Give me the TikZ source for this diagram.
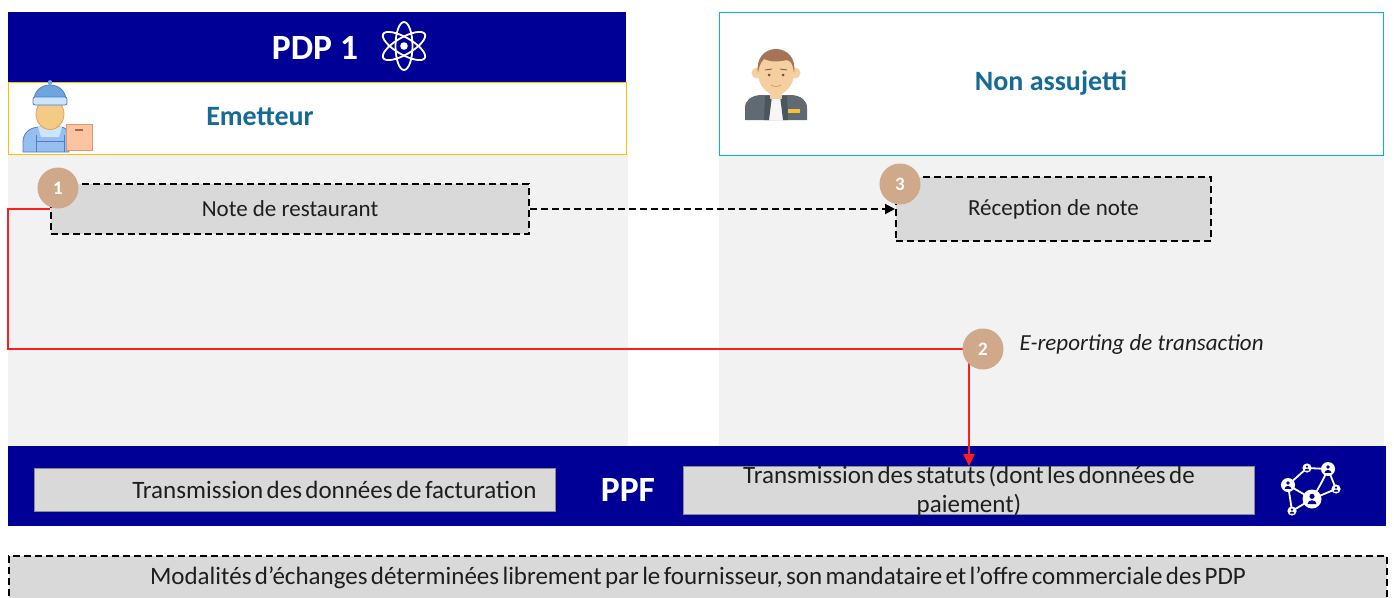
\documentclass[tikz,border=0pt]{standalone}
\usepackage{fontspec}
\setmainfont{Carlito}
\newfontfamily\tightfont{Carlito}[WordSpace=0.6]
\usetikzlibrary{arrows.meta,calc}

\definecolor{navy}{RGB}{0,0,150}
\definecolor{lane}{RGB}{242,242,242}
\definecolor{boxgrey}{RGB}{217,217,217}
\definecolor{rimgrey}{RGB}{140,140,140}
\definecolor{badge}{RGB}{207,169,138}
\definecolor{titleblue}{RGB}{22,106,150}
\definecolor{gold}{RGB}{255,192,0}
\definecolor{sky}{RGB}{0,176,240}
\definecolor{txt}{RGB}{30,30,30}
\definecolor{flowred}{RGB}{255,30,30}
% icon colours
\definecolor{capblue}{RGB}{110,165,225}
\definecolor{capedge}{RGB}{75,125,200}
\definecolor{brim}{RGB}{205,228,250}
\definecolor{overall}{RGB}{150,190,238}
\definecolor{skin}{RGB}{243,203,135}
\definecolor{skinedge}{RGB}{215,165,95}
\definecolor{parcel}{RGB}{252,196,160}
\definecolor{parceledge}{RGB}{225,150,110}
\definecolor{skintwo}{RGB}{245,207,160}
\definecolor{hair}{RGB}{165,115,85}
\definecolor{jacket}{RGB}{95,106,115}
\definecolor{jacketdark}{RGB}{75,85,94}
\definecolor{tag}{RGB}{250,190,60}

\begin{document}
\begin{tikzpicture}[x=1pt,y=-1pt,
  bar/.style={fill=navy, draw=none, inner sep=0pt, anchor=north west},
  stepbox/.style={draw=black, fill=boxgrey, line width=2pt, dash pattern=on 7pt off 4pt,
    inner sep=0pt, anchor=north west, text=txt, font=\fontsize{23}{27}\selectfont},
  ppfbox/.style={draw=rimgrey, fill=boxgrey, line width=1pt, inner sep=0pt,
    anchor=north west, text=txt, font=\tightfont\fontsize{25}{29}\selectfont},
  badgenode/.style={circle, fill=badge, minimum size=41pt, inner sep=0pt, text=white,
    font=\bfseries\fontsize{19}{19}\selectfont},
  heading/.style={text=titleblue, font=\bfseries\fontsize{28}{30}\selectfont},
  bigwhite/.style={text=white, font=\bfseries\fontsize{35.5}{38}\selectfont},
  dashline/.style={black, line width=2pt, dash pattern=on 7pt off 4pt},
  redline/.style={flowred, line width=2pt}
]
\useasboundingbox (0,0) rectangle (1394,597);
\clip (0,0) rectangle (1394,597);

% swim lanes
\fill[lane] (8,154) rectangle (628,446);
\fill[lane] (719,155) rectangle (1384,446);

% PDP 1 header and issuer box
\node[bar, minimum width=618pt, minimum height=70pt] (pdp) at (8,12) {};
\node[bigwhite] (pdptitle) at (315,48) {PDP 1};
\node[draw=gold, fill=white, line width=1pt, inner sep=0pt, anchor=north west,
  minimum width=618pt, minimum height=72pt] (emit) at (8,82) {};
\node[heading] (emittitle) at (260,117) {Emetteur};

% atom symbol
\begin{scope}[white, line width=1.8pt]
  \draw[rotate around={90:(404,46)}] (404,46) ellipse (24 and 8.5);
  \draw[rotate around={30:(404,46)}] (404,46) ellipse (24 and 8.5);
  \draw[rotate around={150:(404,46)}] (404,46) ellipse (24 and 8.5);
  \fill (404,46) circle (3.8);
\end{scope}

% delivery person
\filldraw[fill=overall, draw=capedge, line width=0.8pt]
  (23,152) -- (23,142) .. controls (23,132) and (31,127) .. (40,127)
  -- (60,127) .. controls (66,127) and (69,131) .. (69,138) -- (69,152) -- cycle;
\fill[brim] (38,127) -- (62,127) -- (59,137) -- (41,137) -- cycle;
\draw[capedge, line width=1pt] (36,152) -- (36,135) (64,152) -- (64,135);
\draw[capedge, line width=1pt] (36,141) -- (64,141);
\filldraw[fill=skin, draw=skinedge, line width=0.8pt] (50,114) ellipse (14 and 15.5);
\filldraw[fill=capblue, draw=capedge, line width=0.8pt]
  (34,103) .. controls (32,79) and (68,79) .. (66,103) -- cycle;
\filldraw[fill=brim, draw=capedge, line width=0.8pt, rounded corners=2pt] (33,97) rectangle (67,105);
\fill[capblue] (50,82.5) circle (2.4);
\filldraw[fill=parcel, draw=parceledge, line width=0.8pt] (66,124) rectangle (92,150);
\draw[parceledge!70!black, line width=1.4pt] (75,130) -- (83,130);

% receiver box
\node[draw=sky, fill=white, line width=1.3pt, inner sep=0pt, anchor=north west,
  minimum width=664pt, minimum height=143pt] (recvhead) at (719,12) {};
\node[heading] (recvtitle) at (1051,83) {Non assujetti};

% person in jacket
\fill[jacket] (745,120) -- (745,108) .. controls (745,100) and (751,96) .. (760,95)
  -- (792,95) .. controls (801,96) and (807,100) .. (807,108) -- (807,120) -- cycle;
\fill[white!93!gray] (767,96) -- (785,96) -- (784,120) -- (768,120) -- cycle;
\fill[jacketdark] (765,96) -- (772,96) -- (769,120) -- (764,120) -- cycle;
\fill[jacketdark] (780,96) -- (787,96) -- (788,120) -- (783,120) -- cycle;
\fill[tag] (788,109) rectangle (800,113);
\fill[skintwo] (770,86) rectangle (782,99);
\fill[skintwo] (757,73) circle (5.5);
\fill[skintwo] (795,73) circle (5.5);
\fill[skintwo] (776,73) ellipse (18 and 21.5);
\fill[hair] (758,73) .. controls (753,41) and (799,41) .. (794,73)
  .. controls (793,64) and (791,61) .. (787,60)
  .. controls (778,62) and (770,62) .. (764,59)
  .. controls (761,62) and (759,66) .. (758,73) -- cycle;
\fill[hair!70!black] (769,75) circle (1.5) (783,75) circle (1.5);
\draw[hair!80!black, line width=0.9pt] (765,70) -- (772,69) (780,69) -- (787,70);
\draw[skinedge, line width=0.9pt] (771,85) .. controls (774,87) and (778,87) .. (781,85);

% step boxes
\node[stepbox, minimum width=478pt, minimum height=50pt] (note) at (50,183) {Note de restaurant};
\node[stepbox, minimum width=315pt, minimum height=64pt] (recv) at (895,176) {Réception de note};

% PPF bar
\node[bar, minimum width=1378pt, minimum height=80pt] (ppf) at (8,446) {};
\node[bigwhite] (ppftitle) at (628,490) {PPF};
\node[ppfbox, minimum height=43pt, text width=483pt, align=flush right, inner xsep=19pt]
  (billing) at (34,468) {Transmission des données de facturation};
\node[ppfbox, minimum width=571pt, minimum height=48pt] (status) at (683,466) {};
\node[text=txt, align=center, font=\tightfont\fontsize{25}{29}\selectfont] (statustext)
  at (status.center) {Transmission des statuts (dont les données de\\paiement)};

% network symbol
\begin{scope}
  \coordinate (na) at (1307,468);
  \coordinate (nb) at (1328,469);
  \coordinate (nc) at (1288,485);
  \coordinate (nd) at (1336,489);
  \coordinate (ne) at (1312,499);
  \coordinate (nf) at (1292,511);
  \draw[white, line width=1.8pt] (na) -- (nb) (na) -- (nc) (nb) -- (nd) (nd) -- (ne)
    (nb) .. controls (1322,482) .. (ne) (nc) -- (ne) (nc) -- (nf) (nf) -- (ne);
  \foreach \p/\r in {na/4.6, nb/7, nc/7, nd/4.6, ne/9.5, nf/4.6} {
    \fill[white] (\p) circle (\r);
    \fill[navy] ($(\p)+(0,-0.28*\r)$) circle (0.27*\r);
    \fill[navy] ($(\p)+(-0.48*\r,0.55*\r)$)
      arc[start angle=180, end angle=360, x radius=0.48*\r, y radius=0.42*\r] -- cycle;
  }
\end{scope}

% flows
\draw[dashline, -{Triangle[length=10pt,width=10pt]}] (note.east) -- (recv.west);
\coordinate (turn) at (8,349);
\draw[redline, -{Triangle[length=12pt,width=11pt]}] (note.west) -| (turn) -| (status.north);

% step numbers
\node[badgenode] (b1) at (58,188) {1};
\node[badgenode] (b3) at (900,184) {3};
\node[badgenode] (b2) at (983,349) {2};
\node[anchor=west, text=txt, font=\itshape\fontsize{23}{26}\selectfont] (ereport)
  at (1016,344) {E-reporting de transaction};

% footer note
\node[stepbox, minimum width=1378pt, minimum height=60pt] (footer) at (8,555) {};
\node[text=txt, font=\tightfont\fontsize{25}{29}\selectfont] (footertext) at (698,578)
  {Modalités d’échanges déterminées librement par le fournisseur, son mandataire et l’offre commerciale des PDP};
\end{tikzpicture}
\end{document}
